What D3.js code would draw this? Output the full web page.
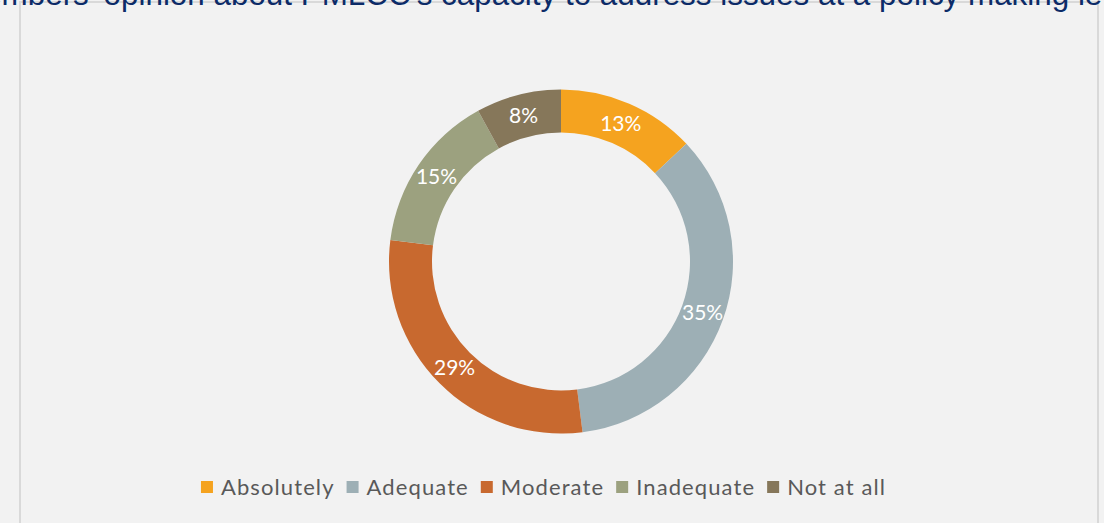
<!DOCTYPE html>
<html>
<head>
<meta charset="utf-8">
<script src="https://cdn.jsdelivr.net/npm/d3@7"></script>
<style>
  html, body { margin: 0; padding: 0; background: #f2f2f2; }
  svg { display: block; }
</style>
</head>
<body>
<svg id="chart" width="1104" height="523"></svg>
<script>
// Survey responses, share of members (%)
const categories = ["Absolutely", "Adequate", "Moderate", "Inadequate", "Not at all"];
const shares = [13, 35, 29, 15, 8];
const colors = ["#f5a31f", "#9dafb5", "#c8692f", "#9ca17f", "#86775a"];
const titleText = "Members' opinion about PMLCC's capacity to address issues at a policy making level";

const svg = d3.select("#chart");
const W = 1104, H = 523;

svg.append("rect").attr("width", W).attr("height", H).attr("fill", "#f2f2f2");

// chart frame
svg.append("rect")
  .attr("x", 20).attr("y", 2)
  .attr("width", 1078).attr("height", 540)
  .attr("fill", "#f2f2f2")
  .attr("stroke", "#d9d9d9").attr("stroke-width", 2);

// heading (runs past the top edge of the view)
svg.append("text")
  .attr("x", -42).attr("y", 5)
  .attr("font-family", "Liberation Sans, Arial, sans-serif")
  .attr("font-size", 31.4)
  .attr("fill", "#0c2b68")
  .text(titleText);

// donut
const cx = 561, cy = 261.5;
const outerR = 172, innerR = 129;
const data = categories.map((c, i) => ({ name: c, value: shares[i], color: colors[i] }));
const pie = d3.pie().sort(null).value(d => d.value);
const arc = d3.arc().innerRadius(innerR).outerRadius(outerR);
const arcs = pie(data);

const g = svg.append("g").attr("transform", `translate(${cx},${cy})`);
g.selectAll("path.slice")
  .data(arcs)
  .join("path")
  .attr("class", "slice")
  .attr("d", arc)
  .attr("fill", d => d.data.color);

g.selectAll("text.pct")
  .data(arcs)
  .join("text")
  .attr("class", "pct")
  .attr("transform", d => `translate(${arc.centroid(d)})`)
  .attr("text-anchor", "middle")
  .attr("dy", "0.36em")
  .attr("font-family", "Lato, 'Open Sans', sans-serif")
  .attr("font-size", 21)
  .attr("fill", "#ffffff")
  .text(d => d3.format(".0f")(d.data.value) + "%");

// legend
const legend = svg.append("g");
const sw = 12, gapText = 8, gapItem = 12;
const items = legend.selectAll("g.item").data(data).join("g").attr("class", "item");
items.append("rect")
  .attr("width", sw).attr("height", sw)
  .attr("y", -sw / 2)
  .attr("fill", d => d.color);
items.append("text")
  .attr("x", sw + gapText)
  .attr("dy", "0.36em")
  .attr("font-family", "Lato, 'Open Sans', sans-serif")
  .attr("font-size", 22)
  .attr("letter-spacing", "1.1px")
  .attr("fill", "#595959")
  .text(d => d.name);

let widths = [];
items.each(function () { widths.push(this.getBBox().width); });
const total = d3.sum(widths) + gapItem * (widths.length - 1);
let x = 543.5 - total / 2;
items.attr("transform", (d, i) => {
  const t = `translate(${x},${487})`;
  x += widths[i] + gapItem;
  return t;
});
</script>
</body>
</html>
